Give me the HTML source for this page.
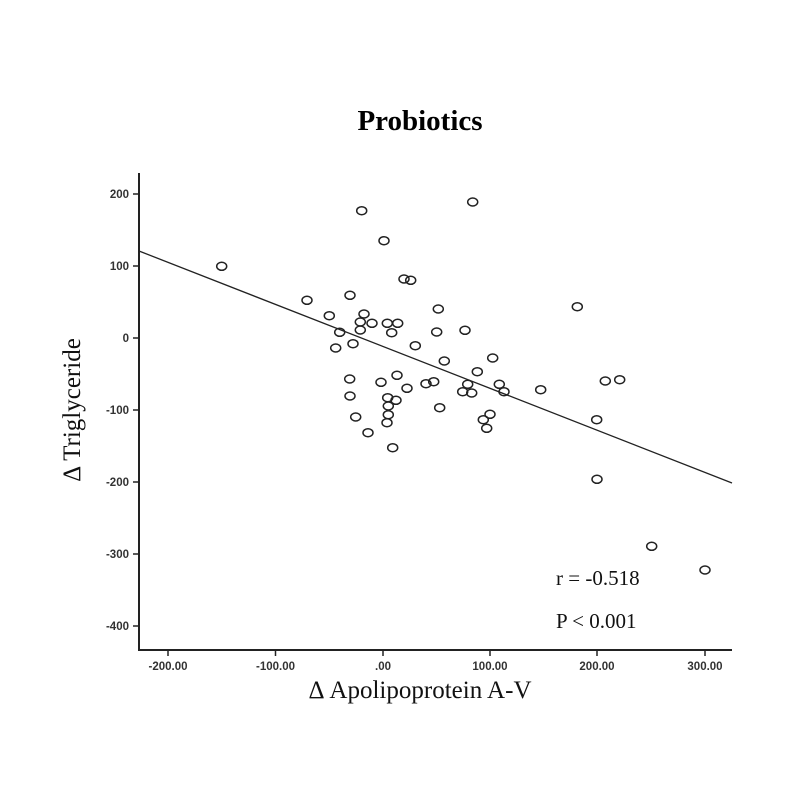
<!DOCTYPE html>
<html><head><meta charset="utf-8"><style>body{margin:0;background:#fff}</style></head><body>
<svg width="800" height="800" viewBox="0 0 800 800" xmlns="http://www.w3.org/2000/svg">
<rect width="800" height="800" fill="#fff"/>
<text x="420" y="130" text-anchor="middle" font-family="Liberation Serif, serif" font-weight="bold" font-size="29">Probiotics</text>
<g stroke="#222" stroke-width="2" fill="none">
<line x1="139" y1="173" x2="139" y2="651"/>
<line x1="138" y1="650" x2="732" y2="650"/>
</g>
<g stroke="#222" stroke-width="1.5">
<line x1="133" y1="194" x2="139" y2="194"/><line x1="133" y1="266" x2="139" y2="266"/><line x1="133" y1="338" x2="139" y2="338"/><line x1="133" y1="410" x2="139" y2="410"/><line x1="133" y1="482" x2="139" y2="482"/><line x1="133" y1="554" x2="139" y2="554"/><line x1="133" y1="626" x2="139" y2="626"/>
<line x1="168" y1="650" x2="168" y2="656"/><line x1="275.5" y1="650" x2="275.5" y2="656"/><line x1="383" y1="650" x2="383" y2="656"/><line x1="490" y1="650" x2="490" y2="656"/><line x1="597" y1="650" x2="597" y2="656"/><line x1="705" y1="650" x2="705" y2="656"/>
</g>
<g font-family="Liberation Sans, sans-serif" font-weight="bold" font-size="11.5" fill="#333" text-anchor="end">
<text x="129" y="198">200</text><text x="129" y="270">100</text><text x="129" y="342">0</text><text x="129" y="414">-100</text><text x="129" y="486">-200</text><text x="129" y="558">-300</text><text x="129" y="630">-400</text>
</g>
<g font-family="Liberation Sans, sans-serif" font-weight="bold" font-size="11.5" fill="#333" text-anchor="middle">
<text x="168" y="670">-200.00</text><text x="275.5" y="670">-100.00</text><text x="383" y="670">.00</text><text x="490" y="670">100.00</text><text x="597" y="670">200.00</text><text x="705" y="670">300.00</text>
</g>
<line x1="139" y1="251" x2="732" y2="483" stroke="#222" stroke-width="1.3"/>
<g fill="none" stroke="#222" stroke-width="1.5">
<ellipse cx="221.7" cy="266.3" rx="5" ry="4"/><ellipse cx="307" cy="300.3" rx="5" ry="4"/><ellipse cx="329.3" cy="315.7" rx="5" ry="4"/><ellipse cx="339.7" cy="332.3" rx="5" ry="4"/><ellipse cx="335.7" cy="348" rx="5" ry="4"/><ellipse cx="350" cy="295.3" rx="5" ry="4"/><ellipse cx="360.3" cy="322" rx="5" ry="4"/><ellipse cx="364" cy="314" rx="5" ry="4"/><ellipse cx="360.3" cy="330" rx="5" ry="4"/><ellipse cx="353" cy="343.7" rx="5" ry="4"/><ellipse cx="372" cy="323.3" rx="5" ry="4"/><ellipse cx="387.3" cy="323.3" rx="5" ry="4"/><ellipse cx="397.7" cy="323.3" rx="5" ry="4"/><ellipse cx="391.7" cy="332.7" rx="5" ry="4"/><ellipse cx="361.7" cy="210.7" rx="5" ry="4"/><ellipse cx="384" cy="240.7" rx="5" ry="4"/><ellipse cx="404" cy="279" rx="5" ry="4"/><ellipse cx="410.7" cy="280.3" rx="5" ry="4"/><ellipse cx="438.3" cy="309" rx="5" ry="4"/><ellipse cx="436.7" cy="332" rx="5" ry="4"/><ellipse cx="465" cy="330.3" rx="5" ry="4"/><ellipse cx="415.3" cy="345.7" rx="5" ry="4"/><ellipse cx="444.3" cy="361" rx="5" ry="4"/><ellipse cx="477.3" cy="371.7" rx="5" ry="4"/><ellipse cx="472.7" cy="202" rx="5" ry="4"/><ellipse cx="349.7" cy="379" rx="5" ry="4"/><ellipse cx="350" cy="396" rx="5" ry="4"/><ellipse cx="355.7" cy="417" rx="5" ry="4"/><ellipse cx="368" cy="432.7" rx="5" ry="4"/><ellipse cx="381" cy="382.3" rx="5" ry="4"/><ellipse cx="397" cy="375.3" rx="5" ry="4"/><ellipse cx="387.7" cy="397.7" rx="5" ry="4"/><ellipse cx="396" cy="400.3" rx="5" ry="4"/><ellipse cx="388.3" cy="406" rx="5" ry="4"/><ellipse cx="388.3" cy="414.7" rx="5" ry="4"/><ellipse cx="387" cy="422.7" rx="5" ry="4"/><ellipse cx="392.7" cy="447.7" rx="5" ry="4"/><ellipse cx="407" cy="388.3" rx="5" ry="4"/><ellipse cx="426" cy="383.7" rx="5" ry="4"/><ellipse cx="433.7" cy="381.7" rx="5" ry="4"/><ellipse cx="439.7" cy="407.7" rx="5" ry="4"/><ellipse cx="462.7" cy="391.7" rx="5" ry="4"/><ellipse cx="467.7" cy="384.3" rx="5" ry="4"/><ellipse cx="471.7" cy="393" rx="5" ry="4"/><ellipse cx="483.3" cy="419.7" rx="5" ry="4"/><ellipse cx="486.7" cy="428.3" rx="5" ry="4"/><ellipse cx="490" cy="414.3" rx="5" ry="4"/><ellipse cx="492.7" cy="358" rx="5" ry="4"/><ellipse cx="499.3" cy="384.3" rx="5" ry="4"/><ellipse cx="504" cy="391.7" rx="5" ry="4"/><ellipse cx="540.7" cy="389.7" rx="5" ry="4"/><ellipse cx="577.3" cy="306.7" rx="5" ry="4"/><ellipse cx="605.3" cy="381" rx="5" ry="4"/><ellipse cx="619.7" cy="379.7" rx="5" ry="4"/><ellipse cx="596.7" cy="419.7" rx="5" ry="4"/><ellipse cx="597" cy="479.3" rx="5" ry="4"/><ellipse cx="651.7" cy="546.3" rx="5" ry="4"/><ellipse cx="705" cy="570" rx="5" ry="4"/>
</g>
<g font-family="Liberation Serif, serif" font-size="21" fill="#111">
<text x="556" y="585">r = -0.518</text>
<text x="556" y="628">P &lt; 0.001</text>
</g>
<text x="420" y="698" text-anchor="middle" font-family="Liberation Serif, serif" font-size="25" fill="#111">Δ Apolipoprotein A-V</text>
<text transform="translate(80,410) rotate(-90)" text-anchor="middle" font-family="Liberation Serif, serif" font-size="25" fill="#111">Δ Triglyceride</text>
</svg>
</body></html>
